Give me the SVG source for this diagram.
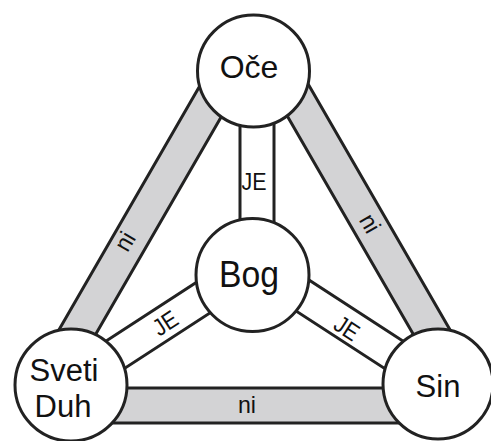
<svg xmlns="http://www.w3.org/2000/svg" width="491" height="441" viewBox="0 0 491 441">
<style>
.ni{fill:#d3d3d5;stroke:#222;stroke-width:3;stroke-linejoin:round}
.je{fill:#fff;stroke:#222;stroke-width:3}
.node{fill:#fff;stroke:#222;stroke-width:3}
text{font-family:"Liberation Sans",Arial,sans-serif;fill:#111;text-anchor:middle}
.big{font-size:32px}
.lbl{font-size:24px}
</style>
<rect width="491" height="441" fill="#fff"/>
<g id="connectors">
  <polygon class="ni" points="208.4,71 247.7,71 66.4,385 27.1,385"/>
  <polygon class="ni" points="261.3,71 300.6,71 481.3,384 442,384"/>
  <rect class="ni" x="71" y="388" width="367" height="35"/>
  <rect class="je" x="240" y="71" width="34" height="204"/>
  <g transform="translate(252.5,263) rotate(33)"><rect class="je" x="0" y="-16.5" width="222" height="33"/></g>
  <g transform="translate(256.5,263) rotate(147)"><rect class="je" x="0" y="-16.5" width="222" height="33"/></g>
  <text class="lbl" transform="translate(126,242) rotate(-60)" x="0" y="7" textLength="18" lengthAdjust="spacingAndGlyphs">ni</text>
  <text class="lbl" transform="translate(369,224) rotate(60)" x="0" y="7" textLength="18" lengthAdjust="spacingAndGlyphs">ni</text>
  <text class="lbl" x="247" y="413" textLength="18" lengthAdjust="spacingAndGlyphs">ni</text>
  <text class="lbl" x="254" y="190" textLength="25" lengthAdjust="spacingAndGlyphs">JE</text>
  <text class="lbl" transform="translate(165,323) rotate(-33)" x="0" y="8.5" textLength="25" lengthAdjust="spacingAndGlyphs">JE</text>
  <text class="lbl" transform="translate(347,328) rotate(33)" x="0" y="8.5" textLength="25" lengthAdjust="spacingAndGlyphs">JE</text>
</g>
<g id="node-oce">
  <circle class="node" cx="253.5" cy="71" r="56"/>
  <text class="big" x="249" y="78">Oče</text>
</g>
<g id="node-bog">
  <circle class="node" cx="252.5" cy="275" r="56.5"/>
  <text x="249" y="287" style="font-size:36px" textLength="60" lengthAdjust="spacingAndGlyphs">Bog</text>
</g>
<g id="node-sveti-duh">
  <circle class="node" cx="71" cy="385" r="56"/>
  <text class="big" x="64" y="381" style="font-size:31px">Sveti</text>
  <text class="big" x="63" y="417" style="font-size:31px">Duh</text>
</g>
<g id="node-sin">
  <circle class="node" cx="438" cy="384" r="55"/>
  <text class="big" x="438" y="397" style="font-size:31px">Sin</text>
</g>
</svg>
